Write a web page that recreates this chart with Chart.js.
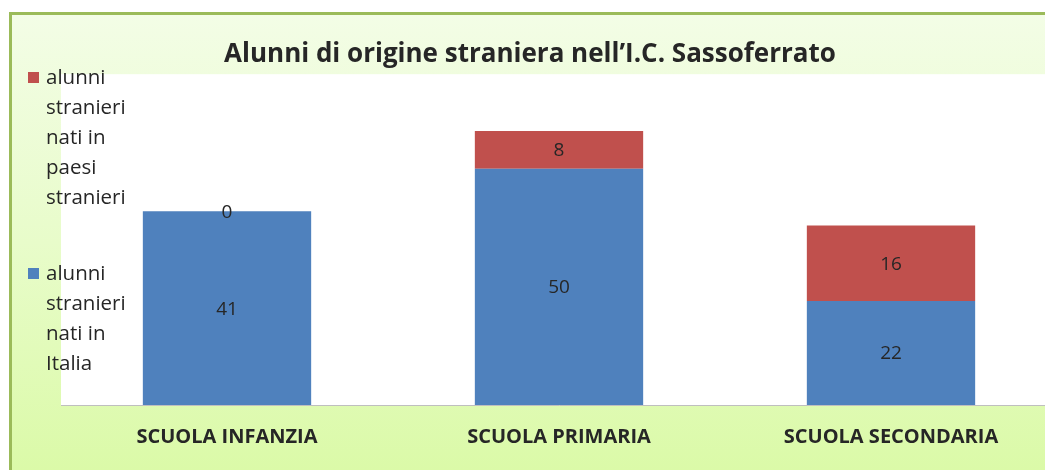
<!DOCTYPE html>
<html>
<head>
<meta charset="utf-8">
<script src="https://cdn.jsdelivr.net/npm/chart.js@4.4.1/dist/chart.umd.min.js"></script>
<style>
  html, body { margin: 0; padding: 0; background: #fff; overflow: hidden; }
  #wrap { width: 1045px; height: 470px; overflow: hidden; position: relative; }
  #box { position: absolute; left: 0; top: 0; width: 1060px; height: 470px; }
</style>
</head>
<body>
<div id="wrap"><div id="box"><canvas id="chart"></canvas></div></div>
<script>
// ── Data ─────────────────────────────────────────────────────
const CATEGORIES   = ['SCUOLA INFANZIA', 'SCUOLA PRIMARIA', 'SCUOLA SECONDARIA'];
const NATI_ITALIA  = [41, 50, 22];
const NATI_ESTERO  = [0, 8, 16];
const SERIES_NAMES = ['alunni stranieri nati in Italia', 'alunni stranieri nati in paesi stranieri'];
const TITLE        = 'Alunni di origine straniera nell\u2019I.C. Sassoferrato';

const FONT = "'Open Sans', 'Liberation Sans', sans-serif";
const TEXT = '#262626';

// ── Plugins ──────────────────────────────────────────────────

// frame: white page, green gradient panel with border, white plot area
const framePlugin = {
  id: 'frame',
  beforeDraw(chart) {
    const { ctx, width, height, chartArea: a } = chart;
    ctx.save();
    ctx.fillStyle = '#ffffff';
    ctx.fillRect(0, 0, width, height);
    const g = ctx.createLinearGradient(0, 14, 0, height);
    g.addColorStop(0, '#f3fde6');
    g.addColorStop(0.5, '#e8fcca');
    g.addColorStop(1, '#dbfaa8');
    ctx.fillStyle = g;
    ctx.fillRect(10, 13, width, height);
    ctx.strokeStyle = '#9bbb59';
    ctx.lineWidth = 3;
    ctx.beginPath();
    ctx.moveTo(10.5, height + 5);
    ctx.lineTo(10.5, 13.5);
    ctx.lineTo(width + 5, 13.5);
    ctx.stroke();
    ctx.fillStyle = '#ffffff';
    ctx.fillRect(a.left, a.top, a.right - a.left, a.bottom - a.top);
    ctx.restore();
  }
};

// value labels centred in each stacked segment
const valueLabels = {
  id: 'valueLabels',
  afterDatasetsDraw(chart) {
    const { ctx } = chart;
    ctx.save();
    ctx.font = `19px ${FONT}`;
    ctx.fillStyle = TEXT;
    ctx.textAlign = 'center';
    ctx.textBaseline = 'middle';
    chart.data.datasets.forEach((ds, di) => {
      chart.getDatasetMeta(di).data.forEach((bar, i) => {
        const y = (bar.y + bar.base) / 2;
        ctx.fillText(String(ds.data[i]), bar.x, y + 1);
      });
    });
    ctx.restore();
  }
};

// legend on the left, wrapped like the spreadsheet one
const sideLegend = {
  id: 'sideLegend',
  afterDraw(chart) {
    const { ctx } = chart;
    const starts = [78, 274];
    const order = chart.data.datasets.map((d, i) => i).reverse();
    ctx.save();
    ctx.font = `20.5px ${FONT}`;
    ctx.textBaseline = 'middle';
    order.forEach((di, k) => {
      const ds = chart.data.datasets[di];
      const lines = wrap(ctx, ds.label, 100);
      const y0 = starts[k];
      ctx.fillStyle = ds.backgroundColor;
      ctx.fillRect(28, y0 - 6, 11, 11);
      ctx.fillStyle = TEXT;
      lines.forEach((ln, j) => ctx.fillText(ln, 46, y0 + j * 30));
    });
    ctx.restore();
  }
};

function wrap(ctx, text, maxW) {
  const words = text.split(' ');
  const out = [];
  let cur = '';
  words.forEach(w => {
    const t = cur ? cur + ' ' + w : w;
    if (cur && ctx.measureText(t).width > maxW) { out.push(cur); cur = w; }
    else cur = t;
  });
  if (cur) out.push(cur);
  return out;
}

// ── Chart ────────────────────────────────────────────────────
new Chart(document.getElementById('chart'), {
  type: 'bar',
  data: {
    labels: CATEGORIES,
    datasets: [
      { label: SERIES_NAMES[0], data: NATI_ITALIA, backgroundColor: '#4f81bd' },
      { label: SERIES_NAMES[1], data: NATI_ESTERO, backgroundColor: '#c0504d' },
    ],
  },
  options: {
    responsive: true,
    maintainAspectRatio: false,
    animation: false,
    layout: { padding: { left: 3, right: 3, top: 0, bottom: 0 } },
    datasets: { bar: { categoryPercentage: 1, barPercentage: 0.507 } },
    plugins: {
      legend: { display: false },
      tooltip: { enabled: false },
      title: {
        display: true,
        text: TITLE,
        color: TEXT,
        font: { family: FONT, size: 26, weight: 'bold', lineHeight: 1.2 },
        padding: { top: 39, bottom: 4 },
      },
    },
    scales: {
      x: {
        stacked: true,
        grid: { display: false, drawTicks: false },
        border: { display: true, color: '#bfbfbf', width: 1 },
        ticks: { color: TEXT, padding: 20.5, font: { family: FONT, size: 20, weight: 'bold', lineHeight: 1.2 } },
      },
      y: {
        stacked: true,
        display: true,
        min: 0,
        max: 70,
        grid: { display: false, drawTicks: false },
        border: { display: false },
        ticks: { display: false },
        afterFit(scale) { scale.width = 58; },
      },
    },
  },
  plugins: [framePlugin, valueLabels, sideLegend],
});
</script>
</body>
</html>
